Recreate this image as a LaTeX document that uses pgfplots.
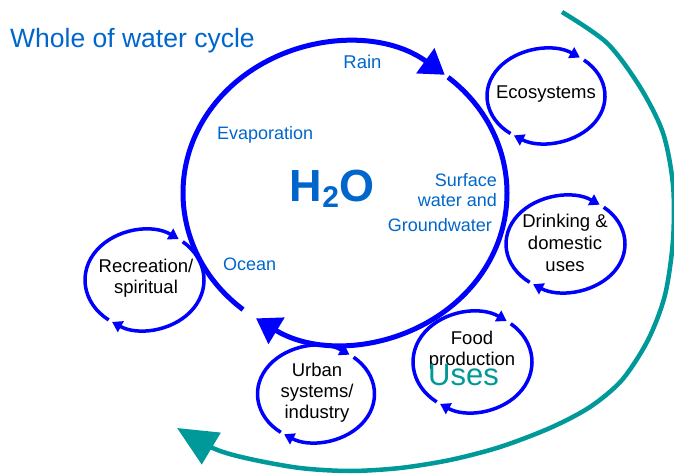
\documentclass[border=0pt]{standalone}
\usepackage{fontspec}
\setmainfont{Liberation Sans}
\usepackage{pgfplots}
\pgfplotsset{compat=1.18}
\usetikzlibrary{arrows.meta}
\definecolor{lineblue}{RGB}{0,0,255}
\definecolor{txtblue}{RGB}{0,102,204}
\definecolor{tealc}{RGB}{0,153,153}
\newcommand{\cyc}[4]{%
  \draw[lineblue, line width=3.5pt, -{Triangle[length=10pt,width=12pt]}]
    ([shift={(233:#3pt and #4pt)}]axis cs:#1,#2) arc[start angle=233, end angle=55, x radius=#3pt, y radius=#4pt];
  \draw[lineblue, line width=3.5pt, -{Triangle[length=10pt,width=12pt]}]
    ([shift={(50:#3pt and #4pt)}]axis cs:#1,#2) arc[start angle=50, end angle=-123, x radius=#3pt, y radius=#4pt];
}
\begin{document}
\begin{tikzpicture}
\begin{axis}[x=1pt, y=1pt, xmin=0, xmax=674, ymin=0, ymax=474,
  axis lines=none, scale only axis, clip=true]
\coordinate (bl) at (rel axis cs:0,0);
\coordinate (tr) at (rel axis cs:1,1);
% teal "Uses" arc
\addplot[tealc, line width=4.5pt, smooth, -{Triangle[length=40pt,width=36pt]}] coordinates {
(562,462) (607,431) (640,387) (663,341) (673,289) (673,234) (665,179) (648,134)
(622,94) (590,67) (550,46) (500,27) (450,14) (400,6) (350,3) (300,6) (250,15) (215,25) (177,46)};
% big water cycle
\draw[lineblue, line width=5pt, -{Triangle[length=24pt,width=30pt]}]
  ([shift={(231:162pt and 150pt)}]axis cs:345,281) arc[start angle=231, end angle=52, x radius=162pt, y radius=150pt];
\draw[lineblue, line width=5pt, -{Triangle[length=24pt,width=30pt]}]
  ([shift={(50.5:162pt and 150pt)}]axis cs:345,281) arc[start angle=50.5, end angle=-123.3, x radius=162pt, y radius=150pt];
% small cycles
\cyc{546}{378}{59}{47}
\cyc{565.5}{230}{59.5}{48}
\cyc{472.5}{112}{59.5}{50}
\cyc{316}{80}{58.5}{48}
\cyc{144.5}{194}{59.5}{50}
% texts
\node[anchor=base west, txtblue, font=\fontsize{26.5}{30}\selectfont, inner sep=0pt] at (axis cs:10,426) {Whole of water cycle};
\node[anchor=base, txtblue, font=\fontsize{18.5}{22}\selectfont, inner sep=0pt] at (axis cs:362.5,405) {Rain};
\node[anchor=base west, txtblue, font=\fontsize{18}{22}\selectfont, inner sep=0pt] at (axis cs:217,334) {Evaporation};
\node[anchor=base, txtblue, font=\fontsize{45}{50}\selectfont\bfseries, inner sep=0pt] at (axis cs:332,272) {H\raisebox{-6pt}{\fontsize{30}{30}\selectfont 2}O};
\node[anchor=base east, txtblue, font=\fontsize{18}{22}\selectfont, inner sep=0pt] at (axis cs:497,287) {Surface};
\node[anchor=base east, txtblue, font=\fontsize{18}{22}\selectfont, inner sep=0pt] at (axis cs:497,267) {water and};
\node[anchor=base east, txtblue, font=\fontsize{18}{22}\selectfont, inner sep=0pt] at (axis cs:492,242) {Groundwater};
\node[anchor=base west, txtblue, font=\fontsize{18}{22}\selectfont, inner sep=0pt] at (axis cs:223,203) {Ocean};
\node[anchor=base, black, font=\fontsize{18.5}{22}\selectfont, inner sep=0pt] at (axis cs:546,375) {Ecosystems};
\node[anchor=base, black, font=\fontsize{18.5}{22}\selectfont, inner sep=0pt] at (axis cs:565,246) {Drinking \&};
\node[anchor=base, black, font=\fontsize{18.5}{22}\selectfont, inner sep=0pt] at (axis cs:565,224) {domestic};
\node[anchor=base, black, font=\fontsize{18.5}{22}\selectfont, inner sep=0pt] at (axis cs:565,202) {uses};
\node[anchor=base, black, font=\fontsize{18.5}{22}\selectfont, inner sep=0pt] at (axis cs:472,129) {Food};
\node[anchor=base, black, font=\fontsize{18.5}{22}\selectfont, inner sep=0pt] at (axis cs:472,109) {production};
\node[anchor=base, black, font=\fontsize{18.5}{22}\selectfont, inner sep=0pt] at (axis cs:317,98) {Urban};
\node[anchor=base, black, font=\fontsize{18.5}{22}\selectfont, inner sep=0pt] at (axis cs:317,77) {systems/};
\node[anchor=base, black, font=\fontsize{18.5}{22}\selectfont, inner sep=0pt] at (axis cs:317,56) {industry};
\node[anchor=base, black, font=\fontsize{18.5}{22}\selectfont, inner sep=0pt] at (axis cs:146,201) {Recreation/};
\node[anchor=base, black, font=\fontsize{18.5}{22}\selectfont, inner sep=0pt] at (axis cs:146,180) {spiritual};
\node[anchor=base west, tealc, font=\fontsize{31}{34}\selectfont, inner sep=0pt] at (axis cs:428,89) {Uses};
\end{axis}
\pgfresetboundingbox
\path[use as bounding box] (bl) rectangle (tr);
\end{tikzpicture}
\end{document}
